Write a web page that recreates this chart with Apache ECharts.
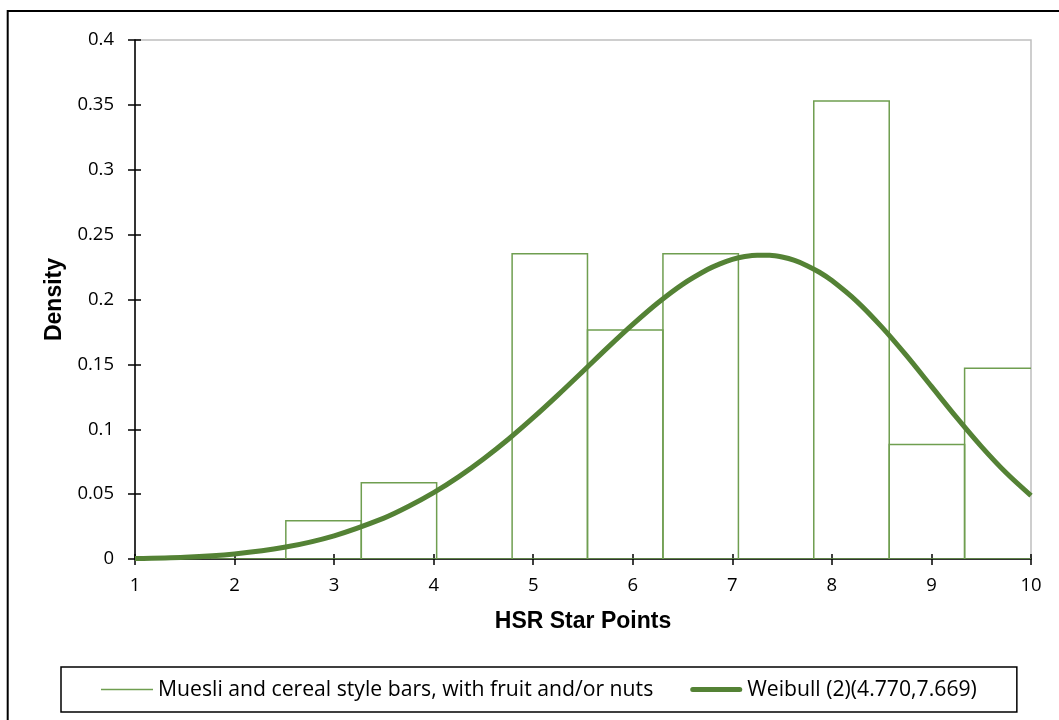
<!DOCTYPE html>
<html>
<head>
<meta charset="utf-8">
<script src="https://cdn.jsdelivr.net/npm/echarts@6/dist/echarts.min.js"></script>
<style>
html,body{margin:0;padding:0;background:#fff;}
#chart{width:1059px;height:720px;}
</style>
</head>
<body>
<div id="chart"></div>
<script>
// Histogram bins (HSR star points) and their densities
const binStarts = [1.000, 1.758, 2.515, 3.273, 4.030, 4.788, 5.545, 6.303, 7.061, 7.818, 8.576, 9.333];
const binEnds   = [1.758, 2.515, 3.273, 4.030, 4.788, 5.545, 6.303, 7.061, 7.818, 8.576, 9.333, 10.091];
const densities = [0, 0, 0.0294, 0.0588, 0, 0.2353, 0.1765, 0.2353, 0, 0.3529, 0.0882, 0.1471];

// Weibull curve
const curveX = [1, 1.5, 2, 2.5, 3, 3.5, 3.75, 4, 4.25, 4.5, 4.75, 5, 5.25, 5.5, 5.75, 6, 6.25, 6.5, 6.75, 6.875, 7, 7.125, 7.25, 7.375, 7.5, 7.625, 7.75, 7.875, 8, 8.25, 8.5, 8.75, 9, 9.25, 9.5, 9.75, 10];
const curveY = [0.0003, 0.0013, 0.0039, 0.0090, 0.0179, 0.0315, 0.0406, 0.0511, 0.0633, 0.0771, 0.0923, 0.1089, 0.1265, 0.1447, 0.1631, 0.1808, 0.1973, 0.2117, 0.2231, 0.2275, 0.2309, 0.2331, 0.2342, 0.2341, 0.2327, 0.2301, 0.2261, 0.2210, 0.2146, 0.1986, 0.1789, 0.1567, 0.1330, 0.1093, 0.0868, 0.0664, 0.0488];

const xTicks = [1, 2, 3, 4, 5, 6, 7, 8, 9, 10];
const yTicks = [0, 0.05, 0.1, 0.15, 0.2, 0.25, 0.3, 0.35, 0.4];

const barName = 'Muesli and cereal style bars, with fruit and/or nuts';
const curveName = 'Weibull (2)(4.770,7.669)';

const histData = binStarts.map((s, i) => [s, binEnds[i], densities[i]]);
const curveData = curveX.map((x, i) => [x, curveY[i]]);

const chart = echarts.init(document.getElementById('chart'), null, {renderer: 'canvas'});
const tickFont = {fontFamily: 'Open Sans', fontSize: 18.5, color: '#000'};
const titleFont = {fontFamily: 'Liberation Sans', fontSize: 23, fontWeight: 'bold', color: '#000'};

const baseX = {
  type: 'value', min: xTicks[0], max: xTicks[xTicks.length - 1], interval: 1,
  splitLine: {show: false}
};
const baseY = {
  type: 'value', min: yTicks[0], max: yTicks[yTicks.length - 1], interval: 0.05,
  splitLine: {show: false}
};

chart.setOption({
  animation: false,
  backgroundColor: '#fff',
  grid: {left: 135, right: 28, top: 40, bottom: 161, show: true, borderColor: '#bfbfbf', borderWidth: 1.5, backgroundColor: 'transparent'},
  xAxis: [
    Object.assign({}, baseX, {
      position: 'bottom',
      axisLine: {show: true, onZero: false, lineStyle: {color: '#000', width: 1.5}},
      axisTick: {show: true, inside: false, length: 6, lineStyle: {color: '#000', width: 1.5}},
      axisLabel: Object.assign({margin: 17, formatter: v => String(v)}, tickFont),
      name: 'HSR Star Points', nameLocation: 'middle', nameGap: 51, nameTextStyle: titleFont
    }),
    Object.assign({}, baseX, {
      position: 'bottom',
      axisLine: {show: false},
      axisTick: {show: true, inside: true, length: 5, lineStyle: {color: '#000', width: 1.5}},
      axisLabel: {show: false}
    })
  ],
  yAxis: [
    Object.assign({}, baseY, {
      position: 'left',
      axisLine: {show: true, onZero: false, lineStyle: {color: '#000', width: 1.5}},
      axisTick: {show: true, inside: false, length: 7, lineStyle: {color: '#000', width: 1.5}},
      axisLabel: Object.assign({margin: 21}, tickFont),
      name: 'Density', nameLocation: 'middle', nameGap: 66, nameTextStyle: titleFont
    }),
    Object.assign({}, baseY, {
      position: 'left',
      axisLine: {show: false},
      axisTick: {show: true, inside: true, length: 6, lineStyle: {color: '#000', width: 1.5}},
      axisLabel: {show: false}
    })
  ],
  legend: {
    left: 61, top: 667,
    orient: 'horizontal',
    borderColor: '#000', borderWidth: 1.5, borderRadius: 0,
    padding: [12, 40, 12, 40],
    itemWidth: 52, itemHeight: 20, itemGap: 37,
    textStyle: {fontFamily: 'Open Sans', fontSize: 21.2, color: '#000'},
    data: [
      {name: barName, icon: 'path://M0,0 L52,0 L52,1.5 L0,1.5 Z', itemStyle: {color: '#6f9e50'}},
      {name: curveName, icon: 'path://M2.5,0 L49.5,0 Q52,0 52,2.5 Q52,5 49.5,5 L2.5,5 Q0,5 0,2.5 Q0,0 2.5,0 Z', itemStyle: {color: '#548235'}}
    ],
    selectedMode: false
  },
  graphic: [{
    type: 'rect', silent: true, z: 100,
    shape: {x: 7.7, y: 11, width: 1200, height: 1000},
    style: {fill: 'none', stroke: '#000', lineWidth: 2}
  }],
  series: [
    {
      name: barName,
      type: 'custom',
      clip: true,
      xAxisIndex: 0, yAxisIndex: 0,
      itemStyle: {color: '#6f9e50'},
      renderItem: function (params, api) {
        const x0 = api.value(0), x1 = api.value(1), y = api.value(2);
        const p0 = api.coord([x0, y]);
        const p1 = api.coord([x1, 0]);
        return {
          type: 'rect',
          shape: {x: p0[0], y: p0[1], width: p1[0] - p0[0], height: p1[1] - p0[1]},
          style: {fill: 'none', stroke: '#6f9e50', lineWidth: 1.5}
        };
      },
      encode: {x: [0, 1], y: 2},
      data: histData,
      z: 3
    },
    {
      name: curveName,
      type: 'line',
      xAxisIndex: 0, yAxisIndex: 0,
      smooth: 0.3,
      symbol: 'none',
      lineStyle: {color: '#548235', width: 5},
      itemStyle: {color: '#548235'},
      data: curveData,
      z: 4
    }
  ]
});
</script>
</body>
</html>
